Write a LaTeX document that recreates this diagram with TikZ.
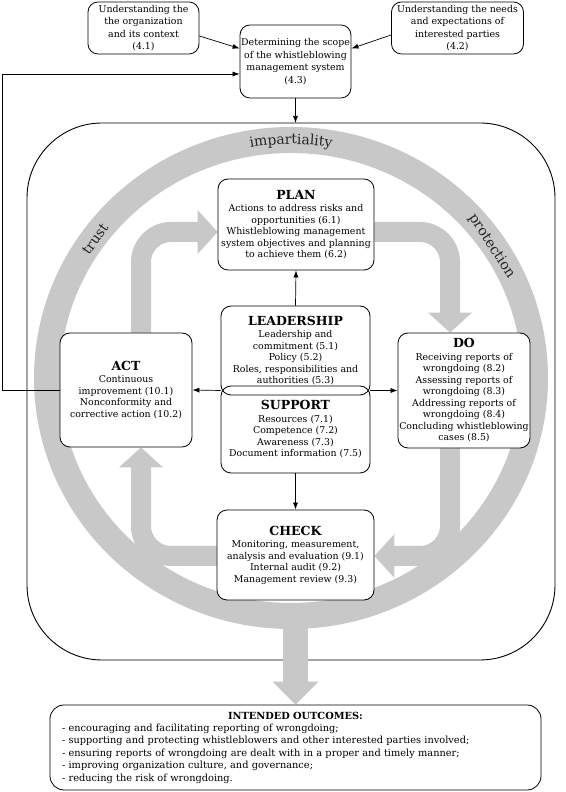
\documentclass[tikz,border=0pt]{standalone}
\usepackage{fontspec}
\setmainfont{DejaVu Serif}
\usetikzlibrary{arrows.meta,decorations.text,calc}
\definecolor{ringgray}{RGB}{200,200,200}
\newcommand{\bodyfont}{\fontsize{9.4}{11.5}\selectfont}
\newcommand{\topfont}{\fontsize{9.4}{12.5}\selectfont}
\newcommand{\ringfont}{\fontsize{14}{14}\selectfont}
\newcommand{\boxtitle}[1]{{\fontsize{12.5}{14}\selectfont\bfseries #1}\\[1pt]}
\begin{document}
\begin{tikzpicture}[x=1pt,y=1pt,
  box/.style={draw, rounded corners=10pt, fill=white, line width=0.8pt, align=center, inner sep=1pt, font=\bodyfont},
  lsbox/.style={box, fill=none},
  topbox/.style={box, font=\topfont},
  blk/.style={line width=0.7pt, -{Latex[length=7pt,width=5pt]}},
  cycs/.style={draw=ringgray, line width=20pt, rounded corners=30pt, shorten >=19pt},
  ringlbl/.style={font=\ringfont, text=black!85, inner sep=0pt},
  ringtext/.style={decorate, decoration={text along path, text color=black!85, text align=center, raise=-4pt}}
]
\useasboundingbox (0,0) rectangle (565,792);
\fill[white] (0,0) rectangle (565,792);

% outer frame
\draw[line width=0.9pt, rounded corners=75pt] (27,132) rectangle (555,669);
\coordinate (frametop) at (295.5,669);

% ring
\draw[ringgray, line width=26pt] (291,414) ellipse [x radius=244pt, y radius=238pt];
\path[ringtext, decoration={text={|\ringfont|impartiality}}]
  ($(291,414)+(110:244pt and 238pt)$) arc[start angle=110, end angle=70, x radius=244pt, y radius=238pt];
\node[ringlbl, rotate=54] (trustlbl) at ($(291,414)+(144:242pt and 236pt)$) {trust};
\node[ringlbl, rotate=-57] (protlbl) at ($(291,414)+(34:242pt and 236pt)$) {protection};
\coordinate (ringb) at (295.5,176);

% top boxes
\node[topbox, minimum width=111pt, minimum height=52pt] (b41) at (143.5,764)
  {Understanding the\\the organization\\and its context\\(4.1)};
\node[topbox, minimum width=132pt, minimum height=52pt] (b42) at (457.5,764)
  {Understanding the needs\\and expectations of\\interested parties\\(4.2)};
\node[topbox, minimum width=111pt, minimum height=73pt] (b43) at (295.5,730.5)
  {Determining the scope\\of the whistleblowing\\management system\\(4.3)};

\path (296,567.5) coordinate (planc) (126,402) coordinate (actc) (464,401.5) coordinate (doc) (295.5,237) coordinate (checkc);

% frames of the cycle boxes (for anchors)
\node[box, minimum width=156pt, minimum height=91pt, draw=none, fill=none] (plan) at (planc) {};
\node[box, minimum width=132pt, minimum height=114pt, draw=none, fill=none] (act) at (actc) {};
\node[box, minimum width=132pt, minimum height=115pt, draw=none, fill=none] (do) at (doc) {};
\node[box, minimum width=157pt, minimum height=90pt, draw=none, fill=none] (check) at (checkc) {};

% big cycle arrows
\draw[cycs] ([xshift=15pt]act.north) |- ([yshift=-7.5pt]plan.west);
\fill[ringgray] ([yshift=-7.5pt]plan.west) -- ++(-20,22) -- ++(0,-44) -- cycle;
\draw[cycs] ([yshift=-7.5pt]plan.east) -| ([xshift=-14pt]do.north);
\fill[ringgray] ([xshift=-14pt]do.north) -- ++(-22,20) -- ++(44,0) -- cycle;
\draw[cycs] ([xshift=-14pt]do.south) |- ([yshift=-1pt]check.east);
\fill[ringgray] ([yshift=-1pt]check.east) -- ++(20,22) -- ++(0,-44) -- cycle;
\draw[cycs] ([yshift=-1pt]check.west) -| ([xshift=15pt]act.south);
\fill[ringgray] ([xshift=15pt]act.south) -- ++(-22,-20) -- ++(44,0) -- cycle;

% outcomes box and big arrow
\node[box, rounded corners=14pt, text width=467pt, inner xsep=12pt, inner ysep=2pt, minimum height=85pt, align=left, font=\fontsize{9.8}{12.4}\selectfont] (outc) at (295.5,44.5)
  {\centerline{\bfseries INTENDED OUTCOMES:}\\
   - encouraging and facilitating reporting of wrongdoing;\\
   - supporting and protecting whistleblowers and other interested parties involved;\\
   - ensuring reports of wrongdoing are dealt with in a proper and timely manner;\\
   - improving organization culture, and governance;\\
   - reducing the risk of wrongdoing.};
\draw[ringgray, line width=25pt, shorten >=22pt] (ringb) -- (outc.north);
\fill[ringgray] (outc.north) -- ++(-23,23) -- ++(46,0) -- cycle;

% main boxes with text
\node[box, minimum width=156pt, minimum height=91pt] at (planc)
  {\boxtitle{PLAN}Actions to address risks and\\opportunities (6.1)\\Whistleblowing management\\system objectives and planning\\to achieve them (6.2)};
\node[box, minimum width=132pt, minimum height=114pt] at (actc)
  {\boxtitle{ACT}Continuous\\improvement (10.1)\\Nonconformity and\\corrective action (10.2)};
\node[box, minimum width=132pt, minimum height=115pt] at (doc)
  {\boxtitle{DO}Receiving reports of\\wrongdoing (8.2)\\Assessing reports of\\wrongdoing (8.3)\\Addressing reports of\\wrongdoing (8.4)\\Concluding whistleblowing\\cases (8.5)};
\node[box, minimum width=157pt, minimum height=90pt] at (checkc)
  {\boxtitle{CHECK}Monitoring, measurement,\\analysis and evaluation (9.1)\\Internal audit (9.2)\\Management review (9.3)};
\node[lsbox, minimum width=149pt, minimum height=89pt] (lead) at (295.5,441.5)
  {\boxtitle{LEADERSHIP}Leadership and\\commitment (5.1)\\Policy (5.2)\\Roles, responsibilities and\\authorities (5.3)};
\node[lsbox, minimum width=149pt, minimum height=87pt] (sup) at (295.5,362.5)
  {\boxtitle{SUPPORT}Resources (7.1)\\Competence (7.2)\\Awareness (7.3)\\Document information (7.5)};

% black connectors
\draw[blk] ([yshift=-8pt]b41.east) -- ([yshift=13pt]b43.west);
\draw[blk] ([yshift=-7pt]b42.west) -- ([yshift=13pt]b43.east);
\draw[blk] (b43.south) -- (frametop);
\draw[blk] (act.west) -- ++(-57,0) |- ([yshift=-12.5pt]b43.west);
\draw[blk] (lead.north) -- (plan.south);
\draw[blk] (sup.south) -- (check.north);
\coordinate (jl) at ($(lead.south west)!0.5!(sup.north west)$);
\coordinate (jr) at ($(lead.south east)!0.5!(sup.north east)$);
\draw[blk] (jl) -- (act.east);
\draw[blk] (jr) -- (do.west);
\end{tikzpicture}
\end{document}
